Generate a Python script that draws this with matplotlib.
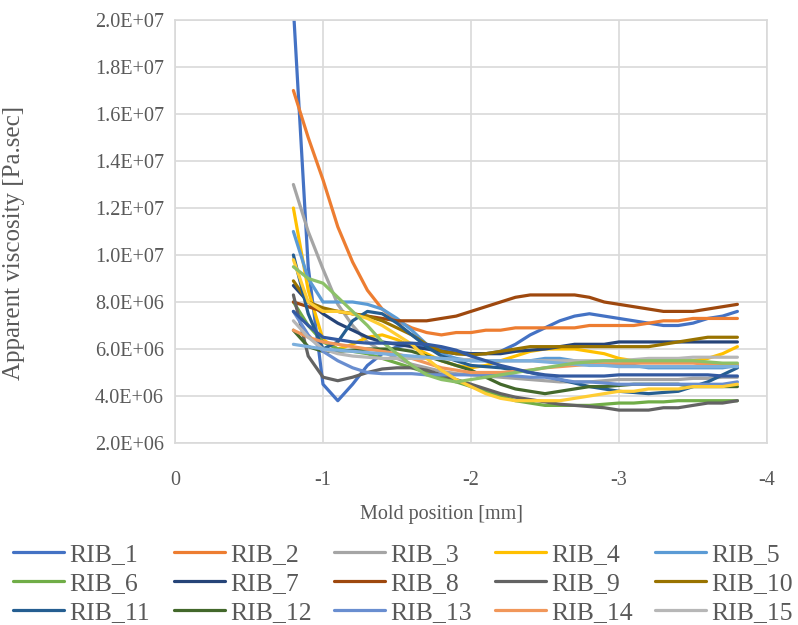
import matplotlib
matplotlib.use("Agg")
import matplotlib.pyplot as plt
import numpy as np

plt.rcParams['font.family'] = ['Liberation Serif', 'DejaVu Serif']

# mold position [mm], -0.8 ... -3.8 step 0.1
pos = [-0.8, -0.9, -1.0, -1.1, -1.2, -1.3, -1.4, -1.5, -1.6, -1.7, -1.8,
       -1.9, -2.0, -2.1, -2.2, -2.3, -2.4, -2.5, -2.6, -2.7, -2.8, -2.9,
       -3.0, -3.1, -3.2, -3.3, -3.4, -3.5, -3.6, -3.7, -3.8]

# apparent viscosity, in 1e6 Pa.sec
rib_1 = [20.5, 9.5, 4.5, 3.8, 4.5, 5.3, 5.8, 6.1, 6.2, 6.1, 6.0, 5.9, 5.8, 5.8, 5.9,
         6.2, 6.6, 6.9, 7.2, 7.4, 7.5, 7.4, 7.3, 7.2, 7.1, 7.0, 7.0, 7.1, 7.3, 7.4, 7.6]
rib_2 = [17.0, 15.0, 13.2, 11.2, 9.7, 8.5, 7.7, 7.2, 6.9, 6.7, 6.6, 6.7, 6.7, 6.8, 6.8,
         6.9, 6.9, 6.9, 6.9, 6.9, 7.0, 7.0, 7.0, 7.0, 7.1, 7.2, 7.2, 7.3, 7.3, 7.3, 7.3]
rib_3 = [13.0, 11.0, 9.4, 7.9, 7.0, 6.3, 5.9, 5.6, 5.35, 5.2, 5.05, 4.95, 4.9, 4.85, 4.8,
         4.75, 4.7, 4.65, 4.6, 4.6, 4.6, 4.65, 4.7, 4.7, 4.7, 4.7, 4.7, 4.75, 4.75, 4.8, 4.8]
rib_4 = [12.0, 8.5, 6.4, 6.0, 6.2, 6.5, 6.6, 6.4, 6.1, 5.8, 5.5, 5.3, 5.2, 5.3, 5.5,
         5.7, 5.9, 6.0, 6.0, 6.0, 5.9, 5.8, 5.6, 5.5, 5.5, 5.5, 5.5, 5.5, 5.6, 5.8, 6.1]
rib_5 = [11.0, 9.0, 8.0, 8.0, 8.0, 7.9, 7.7, 7.3, 6.8, 6.2, 5.8, 5.6, 5.5, 5.5, 5.5,
         5.5, 5.5, 5.6, 5.6, 5.5, 5.4, 5.3, 5.3, 5.3, 5.2, 5.2, 5.2, 5.2, 5.2, 5.2, 5.3]
rib_6 = [8.0, 7.0, 6.3, 6.0, 5.9, 5.8, 5.6, 5.4, 5.2, 5.0, 4.8, 4.6, 4.4, 4.2, 4.0,
         3.8, 3.7, 3.6, 3.6, 3.6, 3.6, 3.65, 3.7, 3.7, 3.75, 3.75, 3.8, 3.8, 3.8, 3.8, 3.8]
rib_7 = [8.7, 8.0, 7.5, 7.1, 6.8, 6.5, 6.3, 6.2, 6.1, 6.0, 5.9, 5.8, 5.8, 5.8, 5.8,
         5.9, 5.95, 6.0, 6.1, 6.2, 6.2, 6.2, 6.3, 6.3, 6.3, 6.3, 6.3, 6.3, 6.3, 6.3, 6.3]
rib_8 = [8.0, 7.8, 7.6, 7.6, 7.5, 7.4, 7.3, 7.2, 7.2, 7.2, 7.3, 7.4, 7.6, 7.8, 8.0,
         8.2, 8.3, 8.3, 8.3, 8.3, 8.2, 8.0, 7.9, 7.8, 7.7, 7.6, 7.6, 7.6, 7.7, 7.8, 7.9]
rib_9 = [8.3, 5.7, 4.8, 4.65, 4.8, 5.0, 5.15, 5.2, 5.2, 5.1, 4.9, 4.7, 4.5, 4.3, 4.1,
         3.95, 3.85, 3.75, 3.65, 3.6, 3.55, 3.5, 3.4, 3.4, 3.4, 3.5, 3.5, 3.6, 3.7, 3.7, 3.8]
rib_10 = [8.9, 8.0, 7.75, 7.6, 7.5, 7.4, 7.2, 6.9, 6.6, 6.2, 5.9, 5.8, 5.75, 5.8, 5.9,
          6.0, 6.1, 6.1, 6.1, 6.1, 6.1, 6.1, 6.1, 6.1, 6.1, 6.2, 6.3, 6.4, 6.5, 6.5, 6.5]
rib_11 = [10.0, 7.5, 6.0, 6.3, 7.2, 7.6, 7.5, 7.1, 6.6, 6.1, 5.7, 5.5, 5.3, 5.25, 5.2,
          5.1, 5.0, 4.85, 4.7, 4.55, 4.4, 4.3, 4.2, 4.15, 4.1, 4.15, 4.2, 4.4, 4.6, 4.9, 5.2]
rib_12 = [6.8, 6.1, 5.9, 5.9, 5.95, 6.0, 6.0, 6.0, 5.9, 5.7, 5.5, 5.3, 5.1, 4.8, 4.5,
          4.3, 4.2, 4.1, 4.2, 4.3, 4.4, 4.4, 4.45, 4.5, 4.5, 4.5, 4.5, 4.4, 4.4, 4.4, 4.4]
rib_13 = [7.6, 6.6, 5.9, 5.5, 5.2, 5.0, 4.95, 4.95, 4.95, 4.9, 4.9, 4.9, 4.9, 4.9, 4.9,
          4.85, 4.8, 4.8, 4.7, 4.6, 4.6, 4.55, 4.5, 4.5, 4.5, 4.5, 4.5, 4.5, 4.5, 4.5, 4.6]
rib_14 = [6.8, 6.5, 6.3, 6.2, 6.1, 6.0, 5.9, 5.8, 5.6, 5.4, 5.2, 5.1, 5.0, 5.0, 5.0,
          5.05, 5.1, 5.2, 5.25, 5.3, 5.35, 5.4, 5.4, 5.4, 5.4, 5.4, 5.4, 5.4, 5.35, 5.35, 5.35]
rib_15 = [7.2, 6.5, 6.0, 5.8, 5.7, 5.65, 5.6, 5.6, 5.6, 5.6, 5.6, 5.55, 5.55, 5.5, 5.5,
          5.5, 5.5, 5.5, 5.5, 5.5, 5.5, 5.5, 5.5, 5.55, 5.6, 5.6, 5.6, 5.65, 5.65, 5.65, 5.65]
rib_16 = [9.8, 8.0, 7.6, 7.6, 7.5, 7.3, 7.0, 6.6, 6.2, 5.6, 5.1, 4.7, 4.4, 4.1, 3.9,
          3.8, 3.8, 3.8, 3.8, 3.9, 4.0, 4.1, 4.2, 4.2, 4.3, 4.3, 4.3, 4.4, 4.4, 4.4, 4.5]
rib_17 = [6.2, 6.1, 6.0, 5.95, 5.9, 5.85, 5.8, 5.75, 5.7, 5.65, 5.6, 5.55, 5.5, 5.5, 5.5,
          5.5, 5.5, 5.45, 5.4, 5.35, 5.3, 5.3, 5.25, 5.25, 5.25, 5.25, 5.25, 5.25, 5.25, 5.25, 5.25]
rib_18 = [9.5, 9.0, 8.8, 8.2, 7.6, 7.0, 6.3, 5.8, 5.3, 4.9, 4.7, 4.6, 4.7, 4.8, 4.9,
          5.0, 5.1, 5.2, 5.3, 5.4, 5.45, 5.5, 5.5, 5.5, 5.5, 5.5, 5.5, 5.5, 5.45, 5.4, 5.4]
rib_19 = [7.6, 7.0, 6.5, 6.4, 6.3, 6.25, 6.25, 6.25, 6.25, 6.2, 6.1, 5.95, 5.7, 5.5, 5.3,
          5.15, 5.0, 4.9, 4.85, 4.85, 4.85, 4.85, 4.9, 4.9, 4.9, 4.9, 4.9, 4.9, 4.9, 4.85, 4.85]

series = [rib_1, rib_2, rib_3, rib_4, rib_5, rib_6, rib_7, rib_8, rib_9, rib_10,
          rib_11, rib_12, rib_13, rib_14, rib_15, rib_16, rib_17, rib_18, rib_19]
names = ['RIB_%d' % (i + 1) for i in range(len(series))]
colors = ['#4472C4', '#ED7D31', '#A5A5A5', '#FFC000', '#5B9BD5', '#70AD47',
          '#264478', '#9E480E', '#636363', '#997300', '#255E91', '#43682B',
          '#698ED0', '#F1975A', '#B7B7B7', '#FFCD33', '#7CAFDD', '#8CC168',
          '#335AA1']

fig = plt.figure(figsize=(7.98, 6.25), dpi=100)
ax = fig.add_axes([175 / 798, 1 - 443 / 625, (767 - 175) / 798, (443 - 20) / 625])

handles = []
for vals, name, c in zip(series, names, colors):
    h, = ax.plot(pos, np.array(vals) * 1e6, color=c, lw=2.3, label=name,
                 solid_capstyle='round', solid_joinstyle='round')
    handles.append(h)


def sci(v, p):
    e = int(np.floor(np.log10(v)))
    return '%.1fE+%02d' % (v / 10 ** e, e)


ax.set_xlim(0, -4)
ax.set_ylim(2e6, 2e7)
ax.set_xticks([0, -1, -2, -3, -4])
ax.set_xticklabels(['0', '-1', '-2', '-3', '-4'])
ax.set_yticks(np.arange(2e6, 2.01e7, 2e6))
ax.yaxis.set_major_formatter(plt.FuncFormatter(sci))
ax.tick_params(length=0, labelsize=14.5, colors='#595959')
ax.tick_params(axis='x', pad=20)
ax.tick_params(axis='y', pad=8)
ax.grid(True, color='#D9D9D9', lw=1.2)
ax.set_axisbelow(True)
for s in ax.spines.values():
    s.set_color('#D9D9D9')
    s.set_linewidth(1.2)

ax.set_xlabel('Mold position [mm]', fontsize=14.5, color='#595959')
ax.xaxis.set_label_coords((442 - 175) / 592, (443 - 505) / 423)
ax.set_ylabel('Apparent viscosity [Pa.sec]', fontsize=18, color='#595959')
ax.yaxis.set_label_coords((25 - 175) / 592, (443 - 243) / 423)

# legend: 15 entries, 5 equal-width columns, filled row by row
for c in range(5):
    idx = [c, c + 5, c + 10]
    leg = fig.legend([handles[i] for i in idx], [names[i] for i in idx],
                     loc='lower left', bbox_to_anchor=((13 + 160.5 * c) / 798, 1 / 625),
                     frameon=False, fontsize=18.5, handlelength=2.0,
                     handletextpad=0.2, labelspacing=0.24, borderpad=0,
                     borderaxespad=0)
    for t in leg.get_texts():
        t.set_color('#595959')

fig.savefig('out.png', dpi=100)
